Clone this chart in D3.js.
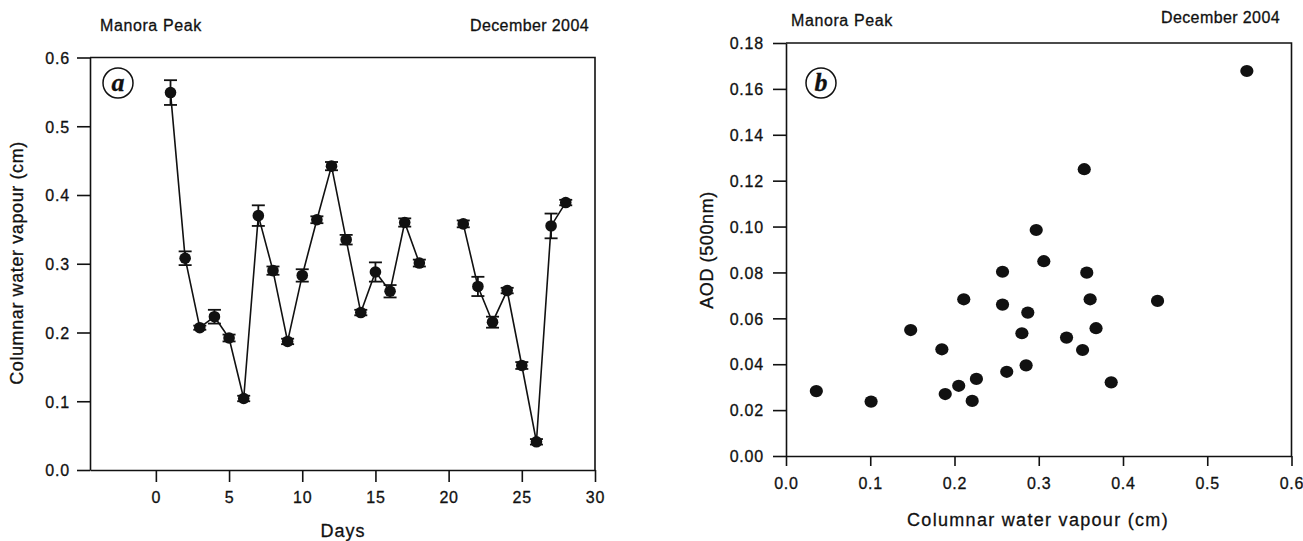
<!DOCTYPE html>
<html>
<head>
<meta charset="utf-8">
<script src="https://cdn.jsdelivr.net/npm/d3@7"></script>
<style>
    body { margin: 0; background: #fff; }
    svg { display: block; }
    text { font-family: "Liberation Sans", Arial, sans-serif; fill: #111; stroke: #111; stroke-width: 0.3px; }
</style>
</head>
<body>
<svg id="chart" width="1303" height="541"></svg>
<script>
// panel (a): daily columnar water vapour, December 2004
var days = [1, 2, 3, 4, 5, 6, 7, 8, 9, 10, 11, 12, 13, 14, 15, 16, 17, 18, 19, 20, 21, 22, 23, 24, 25, 26, 27, 28];
var cwv = [0.549, 0.308, 0.207, 0.223, 0.192, 0.104, 0.370, 0.290, 0.187, 0.283, 0.364, 0.442, 0.335, 0.229,
    0.288, 0.260, 0.360, 0.301, null, null, 0.358, 0.267, 0.215, 0.261, 0.152, 0.041, 0.355, 0.389];
var cwvErr = [0.018, 0.010, 0.003, 0.010, 0.005, 0.004, 0.015, 0.006, 0.004, 0.009, 0.005, 0.006, 0.007, 0.004,
    0.014, 0.009, 0.006, 0.005, null, null, 0.005, 0.014, 0.008, 0.004, 0.005, 0.004, 0.018, 0.004];
var dayTicks = [0, 5, 10, 15, 20, 25, 30];
var cwvTicks = [0.0, 0.1, 0.2, 0.3, 0.4, 0.5, 0.6];

// panel (b): AOD at 500 nm against columnar water vapour
var scatterCwv = [0.036, 0.101, 0.148, 0.185, 0.189, 0.205, 0.211, 0.221, 0.226, 0.257, 0.257, 0.262, 0.280,
    0.285, 0.287, 0.297, 0.306, 0.333, 0.352, 0.354, 0.357, 0.361, 0.368, 0.386, 0.441, 0.547];
var scatterAod = [0.0283, 0.0237, 0.0549, 0.0465, 0.0270, 0.0306, 0.0683, 0.0240, 0.0336, 0.0660, 0.0803, 0.0367, 0.0535,
    0.0395, 0.0625, 0.0985, 0.0849, 0.0516, 0.0462, 0.1250, 0.0799, 0.0683, 0.0557, 0.0321, 0.0676, 0.1678];
var wvTicks = [0.0, 0.1, 0.2, 0.3, 0.4, 0.5, 0.6];
var aodTicks = [0.00, 0.02, 0.04, 0.06, 0.08, 0.10, 0.12, 0.14, 0.16, 0.18];

var svg = d3.select('#chart');

function frame(g, x, y, xTicks, yTicks, xFmt, yFmt, o) {
    var x0 = x.range()[0], x1 = x.range()[1];
    var y0 = y.range()[0], y1 = y.range()[1];

    // top and right sides of the box
    g.append('path')
        .attr('d', 'M' + x0 + ',' + y1 + 'H' + x1 + 'V' + y0)
        .attr('fill', 'none')
        .attr('stroke', '#111')
        .attr('stroke-width', 1.6);

    var xAxis = g.append('g')
        .attr('transform', 'translate(0,' + y0 + ')')
        .call(d3.axisBottom(x).tickValues(xTicks).tickFormat(xFmt).tickSize(o.xTick).tickSizeOuter(0));
    var yAxis = g.append('g')
        .attr('transform', 'translate(' + x0 + ',0)')
        .call(d3.axisLeft(y).tickValues(yTicks).tickFormat(yFmt).tickSize(o.yTick).tickSizeOuter(0));

    [xAxis, yAxis].forEach(function (a) {
        a.select('.domain').attr('stroke', '#111').attr('stroke-width', 1.6);
        a.selectAll('.tick line').attr('stroke', '#111').attr('stroke-width', 1.6);
        a.selectAll('.tick text')
            .attr('fill', '#111')
            .style('font-family', '"Liberation Sans", Arial, sans-serif')
            .style('font-size', '16px')
            .style('letter-spacing', '0.8px');
    });
    xAxis.selectAll('.tick text').attr('dy', null).attr('y', o.xLabelY);
    yAxis.selectAll('.tick text').attr('dy', '0.36em').attr('x', -o.yLabelX);
}

function badge(g, cx, cy, letter) {
    g.append('circle')
        .attr('cx', cx).attr('cy', cy).attr('r', 15)
        .attr('fill', 'none').attr('stroke', '#111').attr('stroke-width', 1.5);
    g.append('text')
        .attr('x', cx).attr('y', cy + 8)
        .attr('text-anchor', 'middle')
        .style('font-family', '"Liberation Serif", "DejaVu Serif", serif')
        .style('font-style', 'italic')
        .style('font-weight', 'bold')
        .style('font-size', '26px')
        .text(letter);
}

function header(g, left, right, yl, yr) {
    g.append('text').attr('x', left).attr('y', yl)
        .style('font-size', '16px').style('letter-spacing', '0.6px')
        .text('Manora Peak');
    g.append('text').attr('x', right).attr('y', yr)
        .attr('text-anchor', 'end')
        .style('font-size', '16px').style('letter-spacing', '0.4px')
        .text('December 2004');
}

// ---- panel a ----
var ga = svg.append('g');
var xa = d3.scaleLinear().domain([-4.5, 30]).range([90, 595]);
var ya = d3.scaleLinear().domain([0, 0.6]).range([470, 57.5]);

frame(ga, xa, ya, dayTicks, cwvTicks, d3.format('d'), d3.format('.1f'),
    {xTick: 12, yTick: 13, xLabelY: 33, yLabelX: 20});

var seriesA = days.map(function (d, i) {
    return {day: d, v: cwv[i], e: cwvErr[i]};
});
var pts = seriesA.filter(function (d) { return d.v !== null; });

ga.append('path')
    .datum(seriesA)
    .attr('d', d3.line()
        .defined(function (d) { return d.v !== null; })
        .x(function (d) { return xa(d.day); })
        .y(function (d) { return ya(d.v); }))
    .attr('fill', 'none')
    .attr('stroke', '#111')
    .attr('stroke-width', 1.6);

var err = ga.append('g').selectAll('g').data(pts).join('g')
    .attr('stroke', '#111').attr('stroke-width', 1.8);
err.append('line')
    .attr('x1', function (d) { return xa(d.day); })
    .attr('x2', function (d) { return xa(d.day); })
    .attr('y1', function (d) { return ya(d.v + d.e); })
    .attr('y2', function (d) { return ya(d.v - d.e); });
[1, -1].forEach(function (s) {
    err.append('line')
        .attr('x1', function (d) { return xa(d.day) - 6.5; })
        .attr('x2', function (d) { return xa(d.day) + 6.5; })
        .attr('y1', function (d) { return ya(d.v + s * d.e); })
        .attr('y2', function (d) { return ya(d.v + s * d.e); });
});

ga.append('g').selectAll('circle').data(pts).join('circle')
    .attr('cx', function (d) { return xa(d.day); })
    .attr('cy', function (d) { return ya(d.v); })
    .attr('r', 5.8)
    .attr('fill', '#111');

badge(ga, 118, 83, 'a');
header(ga, 100, 589, 31, 31);

ga.append('text')
    .attr('transform', 'translate(23,' + 263 + ') rotate(-90)')
    .attr('text-anchor', 'middle')
    .style('font-size', '18px').style('letter-spacing', '0.6px')
    .text('Columnar water vapour (cm)');
ga.append('text')
    .attr('x', 343).attr('y', 537)
    .attr('text-anchor', 'middle')
    .style('font-size', '18px').style('letter-spacing', '1px')
    .text('Days');

// ---- panel b ----
var gb = svg.append('g');
var xb = d3.scaleLinear().domain([0, 0.6]).range([786, 1291.5]);
var yb = d3.scaleLinear().domain([0, 0.18]).range([456, 43]);

frame(gb, xb, yb, wvTicks, aodTicks, d3.format('.1f'), d3.format('.2f'),
    {xTick: 10, yTick: 13, xLabelY: 33, yLabelX: 22});

gb.append('g').selectAll('ellipse').data(scatterCwv).join('ellipse')
    .attr('cx', function (d) { return xb(d); })
    .attr('cy', function (d, i) { return yb(scatterAod[i]); })
    .attr('rx', 6.6)
    .attr('ry', 6.1)
    .attr('fill', '#111');

badge(gb, 821, 83, 'b');
header(gb, 791, 1280, 26, 23);

gb.append('text')
    .attr('transform', 'translate(713,' + 250 + ') rotate(-90)')
    .attr('text-anchor', 'middle')
    .style('font-size', '18px').style('letter-spacing', '0.6px')
    .text('AOD (500nm)');
gb.append('text')
    .attr('x', 1038).attr('y', 526)
    .attr('text-anchor', 'middle')
    .style('font-size', '18px').style('letter-spacing', '1.3px')
    .text('Columnar water vapour (cm)');
</script>
</body>
</html>
